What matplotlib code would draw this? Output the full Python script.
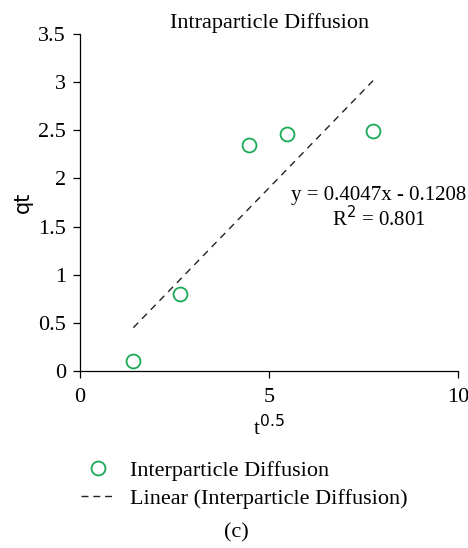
import numpy as np
import matplotlib
matplotlib.use("Agg")
import matplotlib.pyplot as plt
from matplotlib.lines import Line2D

plt.rcParams['font.family'] = ['Liberation Serif', 'DejaVu Serif']

# data
t05 = [1.41, 2.65, 4.47, 5.48, 7.75]
qt = [0.10, 0.80, 2.35, 2.46, 2.49]
slope = 0.4047
intercept = -0.1208
r2 = 0.801

green = '#1aaa55'

fig = plt.figure(figsize=(4.68, 5.48), dpi=100)
ax = fig.add_axes([0.171, 0.323, 0.808, 0.615])

ax.plot(t05, qt, 'o', mfc='none', mec=green, mew=1.3, ms=10)
xs = np.array([min(t05), max(t05)])
ax.plot(xs, slope * xs + intercept, '--', color='#222222', lw=1.0, dashes=(5, 4))

ax.set_xlim(0, 10)
ax.set_ylim(0, 3.5)
ax.set_xticks([0, 5, 10])
ax.set_yticks([0, 0.5, 1, 1.5, 2, 2.5, 3, 3.5])
ax.set_yticklabels(['0', '0.5', '1', '1.5', '2', '2.5', '3', '3.5'])
ax.tick_params(labelsize=16, length=5, width=0.9, direction='out')
ax.tick_params(axis='x', pad=7)
ax.tick_params(axis='y', pad=5)
for s in ['top', 'right']:
    ax.spines[s].set_visible(False)
for s in ['left', 'bottom']:
    ax.spines[s].set_linewidth(0.9)

ax.set_title('Intraparticle Diffusion', fontsize=16, pad=4)
ax.set_xlabel('t$^{0.5}$', fontsize=16, labelpad=6)
ax.set_ylabel('qt', fontsize=15, family='DejaVu Sans', labelpad=4)

ax.text(7.9, 1.82, f'y = {slope:.4f}x - {abs(intercept):.4f}', ha='center', va='center', fontsize=15)
ax.text(7.9, 1.58, f'R$^2$ = {r2:.3f}', ha='center', va='center', fontsize=15)

handles = [Line2D([], [], ls='none', marker='o', mfc='none', mec=green, mew=1.3, ms=10),
           Line2D([], [], ls='--', color='#222222', lw=1.0, dashes=(5, 3.5))]
fig.legend(handles, ['Interparticle Diffusion', 'Linear (Interparticle Diffusion)'],
           loc='upper left', bbox_to_anchor=(0.131, 0.197), frameon=False,
           fontsize=16, handlelength=1.5, handletextpad=0.7, labelspacing=0.35)

fig.text(0.506, 0.027, '(c)', ha='center', va='center', fontsize=16)

fig.savefig('out.png', dpi=100)
